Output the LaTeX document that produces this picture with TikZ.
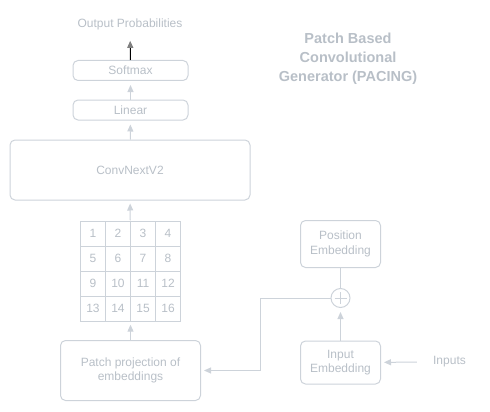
\documentclass[tikz,border=0pt]{standalone}
\usepackage{fontspec}
\setmainfont{Liberation Sans}
\usetikzlibrary{arrows.meta}
\definecolor{linegray}{HTML}{CDD3DA}
\definecolor{textgray}{HTML}{B8BFC7}

\begin{document}
\begin{tikzpicture}[x=1pt, y=-1pt,
  box/.style={draw=linegray, line width=1pt, rounded corners=5pt, text=textgray,
    align=center, inner sep=0pt, font=\fontsize{12}{14.5}\selectfont},
  cell/.style={draw=linegray, line width=1pt, minimum size=25pt, inner sep=0pt,
    text=textgray, font=\fontsize{12}{14}\selectfont},
  label/.style={text=textgray, inner sep=0pt, font=\fontsize{12}{14}\selectfont},
  arr/.style={draw=linegray, line width=1pt, -{Triangle[width=6pt,length=7pt]}, shorten >=4pt}]
\useasboundingbox (0,0) rectangle (490,412);

% left column
\node[label] (outprob) at (130,24) {Output Probabilities};
\node[box, minimum width=115pt, minimum height=20pt] (softmax) at (130.5,70.5) {Softmax};
\node[box, minimum width=115pt, minimum height=20pt] (linear) at (130.5,110) {Linear};
\node[box, minimum width=240pt, minimum height=60pt] (conv) at (130,170) {ConvNextV2};

% patch grid
\node[minimum size=100pt, inner sep=0pt] (grid) at (130.5,270.5) {};
\foreach \i in {0,...,3}
  \foreach \j in {0,...,3}
    \pgfmathtruncatemacro{\n}{4*\i+\j+1}
    \node[cell] (c\n) at (93+25*\j,233.5+25*\i) {\n};

\node[box, minimum width=140pt, minimum height=60pt] (patch) at (130.5,370.5) {Patch projection of\\embeddings};

% right column
\node[box, minimum width=80pt, minimum height=47pt] (pos) at (340.5,244) {Position\\Embedding};
\node[circle, draw=linegray, line width=1pt, minimum size=19pt, inner sep=0pt,
  path picture={\draw[linegray, line width=1pt] (path picture bounding box.center) +(-6,0) -- +(6,0)
    (path picture bounding box.center) +(0,-6) -- +(0,6);}] (plus) at (340.5,298) {};
\node[box, minimum width=80pt, minimum height=43pt] (input) at (340.5,362.5) {Input\\Embedding};
\node[label] (inputs) at (449.5,362) {Inputs};
\coordinate (bend) at (260.5,298);

% title
\node[text=textgray, align=center, font=\fontsize{14.5}{19}\selectfont\bfseries] (title) at (348,59)
  {Patch Based\\Convolutional\\Generator (PACING)};

% connectors
\draw[line width=1pt, -{Triangle[width=6pt,length=7pt,color=gray]}, shorten >=11pt] (softmax) -- (outprob);
\draw[arr] (linear) -- (softmax);
\draw[arr] (conv) -- (linear);
\draw[arr, shorten >=3pt] (grid) -- (conv);
\draw[arr] (patch) -- (grid);
\draw[draw=linegray, line width=1pt] (pos) -- (plus);
\draw[arr] (input) -- (plus);
\draw[arr, shorten >=3pt, shorten <=16pt] (inputs) -- (input);
\draw[arr, shorten >=3pt] (plus) -- (bend) |- (patch.east);
\end{tikzpicture}
\end{document}
